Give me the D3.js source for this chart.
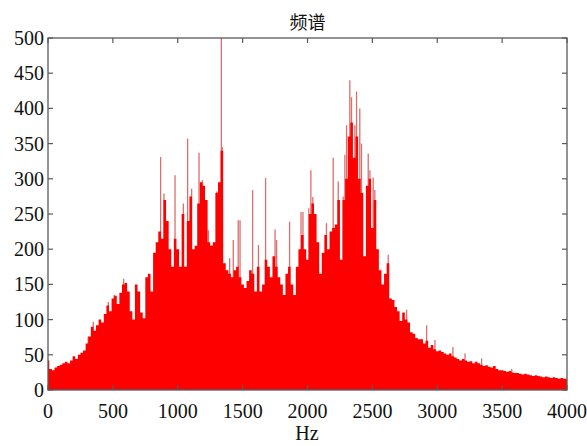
<!DOCTYPE html>
<html>
<head>
<meta charset="utf-8">
<script src="https://cdn.jsdelivr.net/npm/d3@7"></script>
<style>
  body { margin: 0; background: #fff; }
</style>
</head>
<body>
<svg id="main" width="587" height="446"></svg>
<script>
// spectrum magnitude, one value every 20 Hz from 0 to 4000 Hz
const step = 20;
const mag = [
  42, 30, 28, 32, 34, 36, 38, 40, 38, 42,
  48, 44, 50, 53, 56, 66, 76, 90, 84, 92,
  100, 96, 108, 120, 112, 130, 134, 122, 138, 150,
  152, 140, 112, 100, 150, 140, 110, 102, 160, 165,
  140, 195, 210, 225, 215, 270, 240, 200, 175, 215,
  200, 175, 250, 175, 240, 275, 200, 205, 265, 295,
  290, 270, 210, 205, 210, 280, 295, 340, 180, 170,
  165, 160, 170, 175, 160, 150, 145, 155, 170, 165,
  140, 175, 140, 150, 185, 175, 160, 190, 175, 160,
  150, 135, 165, 175, 150, 135, 175, 200, 220, 200,
  185, 250, 265, 250, 210, 165, 195, 220, 200, 225,
  230, 235, 270, 185, 270, 300, 360, 380, 330, 360,
  300, 280, 190, 290, 300, 230, 270, 200, 170, 150,
  165, 180, 130, 128, 118, 112, 98, 110, 100, 96,
  82, 80, 74, 72, 72, 66, 70, 60, 64, 58,
  55, 56, 54, 52, 50, 52, 48, 46, 44, 42,
  44, 42, 40, 41, 38, 40, 38, 36, 34, 35,
  33, 32, 34, 30, 28, 28, 27, 26, 27, 25,
  24, 24, 23, 22, 23, 22, 21, 20, 21, 20,
  19, 18, 19, 18, 17, 18, 17, 16, 17, 16, 16
];
// narrow peaks sticking out of the envelope: [Hz, magnitude]
const peaks = [
  [310, 76], [349, 97], [465, 125], [510, 135], [583, 158], [868, 331], [894, 279],
  [979, 305], [1043, 265], [1076, 357], [1107, 286], [1164, 337], [1190, 298],
  [1236, 227], [1262, 206], [1300, 282], [1320, 294], [1336, 500], [1343, 345],
  [1400, 187], [1428, 213], [1466, 241], [1480, 241], [1577, 284], [1622, 206],
  [1677, 301], [1750, 228], [1762, 213], [1862, 239], [1950, 253], [1965, 253],
  [2010, 258], [2026, 312], [2041, 274], [2146, 237], [2198, 330], [2237, 296],
  [2275, 275], [2288, 334], [2301, 376], [2326, 440], [2339, 416], [2365, 376],
  [2378, 424], [2403, 400], [2416, 350], [2468, 336], [2481, 312], [2506, 302],
  [2519, 284], [2622, 192], [2764, 114], [2918, 92], [2982, 71], [3121, 61],
  [3214, 52], [3342, 45], [3574, 30]
];
const xTicks = [0, 500, 1000, 1500, 2000, 2500, 3000, 3500, 4000];
const yTicks = [0, 50, 100, 150, 200, 250, 300, 350, 400, 450, 500];

const svg = d3.select('svg#main');
const mLeft = 48, mRight = 567, mTop = 38, mBottom = 390;
const serif = "'Liberation Serif', 'DejaVu Serif', serif";

const x = d3.scaleLinear().domain([0, 4000]).range([mLeft, mRight]);
const y = d3.scaleLinear().domain([0, 500]).range([mBottom, mTop]);

svg.append("defs").append("clipPath").attr("id", "plot")
  .append("rect").attr("x", mLeft).attr("y", mTop - 2)
  .attr("width", mRight - mLeft).attr("height", mBottom - mTop + 2);

const plot = svg.append("g").attr("clip-path", "url(#plot)");

// peaks first so the envelope covers their lower part
plot.selectAll("line.peak")
  .data(peaks)
  .enter()
  .append("line")
  .attr("class", "peak")
  .attr("x1", d => x(d[0])).attr("x2", d => x(d[0]))
  .attr("y1", y(0)).attr("y2", d => y(d[1]))
  .style("stroke", "#dc6e6e")
  .style("stroke-width", "1.3px");

// envelope as one stepped area so neighbouring bins leave no seams
const area = d3.area()
  .curve(d3.curveStep)
  .x((d, i) => x(i * step))
  .y0(y(0))
  .y1(d => y(d));

plot.append("path")
  .datum(mag)
  .attr("d", area)
  .attr("fill", "#ff0000");

// baseline
plot.append("line")
  .attr("x1", x(0)).attr("x2", x(3580))
  .attr("y1", y(0)).attr("y2", y(0))
  .style("stroke", "#4a4ad0").style("stroke-width", "1.2px");

// frame and ticks (box on, ticks inside)
const axisColor = "#5a5a5a";
svg.append("rect")
  .attr("x", mLeft).attr("y", mTop)
  .attr("width", mRight - mLeft).attr("height", mBottom - mTop)
  .attr("fill", "none").style("stroke", axisColor).style("stroke-width", "1.3px");

const tl = 5;
const ticks = svg.append("g").style("stroke", axisColor).style("stroke-width", "1.2px");
xTicks.forEach(t => {
  ticks.append("line").attr("x1", x(t)).attr("x2", x(t)).attr("y1", mTop).attr("y2", mTop + tl);
  ticks.append("line").attr("x1", x(t)).attr("x2", x(t)).attr("y1", mBottom).attr("y2", mBottom - tl);
});
yTicks.forEach(t => {
  ticks.append("line").attr("x1", mLeft).attr("x2", mLeft + tl).attr("y1", y(t)).attr("y2", y(t));
  ticks.append("line").attr("x1", mRight).attr("x2", mRight - tl).attr("y1", y(t)).attr("y2", y(t));
});

// tick labels
svg.append("g").selectAll("text")
  .data(xTicks).enter().append("text")
  .attr("x", d => x(d)).attr("y", 418)
  .attr("text-anchor", "middle")
  .style("font-family", serif).style("font-size", "20px").style("fill", "#111")
  .text(d => d);

svg.append("g").selectAll("text")
  .data(yTicks).enter().append("text")
  .attr("x", 44).attr("y", d => y(d) + 7)
  .attr("text-anchor", "end")
  .style("font-family", serif).style("font-size", "20px").style("fill", "#111")
  .text(d => d);

// title and axis label
svg.append("text")
  .attr("x", (mLeft + mRight) / 2).attr("y", 29)
  .attr("text-anchor", "middle")
  .style("font-family", "'Noto Sans CJK SC', sans-serif")
  .style("font-size", "18px").style("fill", "#111")
  .text("频谱");

svg.append("text")
  .attr("x", 307).attr("y", 440)
  .attr("text-anchor", "middle")
  .style("font-family", serif).style("font-size", "20px").style("fill", "#111")
  .text("Hz");
</script>
</body>
</html>
